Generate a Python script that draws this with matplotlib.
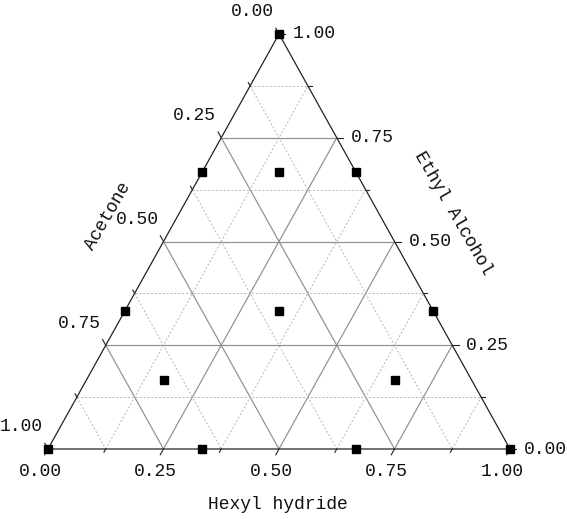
import matplotlib.pyplot as plt
import numpy as np

plt.rcParams['font.family'] = ['Liberation Mono', 'DejaVu Sans Mono']

# design points (fractions)
hexyl = [0.0, 0.0, 1.0, 0.0, 0.333, 0.167, 0.0, 0.667, 0.333, 0.167, 0.667, 0.333, 0.667]
ethyl = [1.0, 0.0, 0.0, 0.667, 0.667, 0.667, 0.333, 0.333, 0.333, 0.167, 0.167, 0.0, 0.0]
acetone = [0.0, 1.0, 0.0, 0.333, 0.0, 0.167, 0.667, 0.0, 0.333, 0.667, 0.167, 0.667, 0.333]

major = [0.25, 0.5, 0.75]
minor = [0.125, 0.375, 0.625, 0.875]
tick_labels = ['0.00', '0.25', '0.50', '0.75', '1.00']


def xy(a, b):
    # a = hexyl hydride, b = ethyl alcohol
    return a + b / 2.0, b


fig = plt.figure(figsize=(5.67, 5.19), dpi=100)
ax = fig.add_axes([48 / 567, 70 / 519, 462 / 567, 415 / 519])
ax.set_xlim(0, 1)
ax.set_ylim(0, 1)
ax.axis('off')

txt_col = '#111111'
fs = 13

# grid
for vals, col, ls, lw in [(major, '#8f8f8f', '-', 0.85), (minor, '#b5b5b5', (0, (2, 2)), 0.7)]:
    for v in vals:
        # constant ethyl (horizontal)
        p, q = xy(0, v), xy(1 - v, v)
        ax.plot([p[0], q[0]], [p[1], q[1]], color=col, ls=ls, lw=lw, zorder=1)
        # constant hexyl
        p, q = xy(v, 0), xy(v, 1 - v)
        ax.plot([p[0], q[0]], [p[1], q[1]], color=col, ls=ls, lw=lw, zorder=1)
        # constant acetone
        p, q = xy(0, 1 - v), xy(1 - v, 0)
        ax.plot([p[0], q[0]], [p[1], q[1]], color=col, ls=ls, lw=lw, zorder=1)

# frame
tri = np.array([xy(0, 0), xy(1, 0), xy(0, 1), xy(0, 0)])
ax.plot(tri[:, 0], tri[:, 1], color='#222222', lw=0.9, zorder=2, clip_on=False)

# ticks
for v, t in [(x, 0.014) for x in [0, 0.25, 0.5, 0.75, 1]] + [(x, 0.008) for x in minor]:
    # bottom (hexyl), outward down-left
    px, py = xy(v, 0)
    ax.plot([px, px - 0.5 * t], [py, py - t], color='#222222', lw=0.8, clip_on=False)
    # right (ethyl), outward right
    px, py = xy(1 - v, v)
    ax.plot([px, px + t], [py, py], color='#222222', lw=0.8, clip_on=False)
    # left (acetone), outward up-left
    px, py = xy(0, 1 - v)
    ax.plot([px, px - 0.5 * t], [py, py + t], color='#222222', lw=0.8, clip_on=False)

# tick labels
for i, lab in enumerate(tick_labels):
    v = i * 0.25
    ax.annotate(lab, xy(v, 0), xytext=(-5.5, -16.5), textcoords='offset points',
                ha='center', va='center', fontsize=fs, color=txt_col)
    ax.annotate(lab, xy(1 - v, v), xytext=(10, 0), textcoords='offset points',
                ha='left', va='center', fontsize=fs, color=txt_col)
    ax.annotate(lab, xy(0, 1 - v), xytext=(-19, 16), textcoords='offset points',
                ha='center', va='center', fontsize=fs, color=txt_col)

# axis titles
ax.annotate('Hexyl hydride', xy(0.5, 0), xytext=(-1, -40), textcoords='offset points',
            ha='center', va='center', fontsize=fs, color=txt_col)
ax.annotate('Ethyl Alcohol', xy(0.5, 0.5), xytext=(42, 20.5), textcoords='offset points',
            ha='center', va='center', fontsize=fs, color=txt_col, rotation=-60)
ax.annotate('Acetone', xy(0, 0.5), xytext=(-40, 18.4), textcoords='offset points',
            ha='center', va='center', fontsize=fs, color=txt_col, rotation=60)

# points
px = [a + b / 2.0 for a, b in zip(hexyl, ethyl)]
py = ethyl
ax.plot(px, py, 's', color='black', markersize=5.5, zorder=5, clip_on=False)

plt.savefig('out.png', dpi=100)
